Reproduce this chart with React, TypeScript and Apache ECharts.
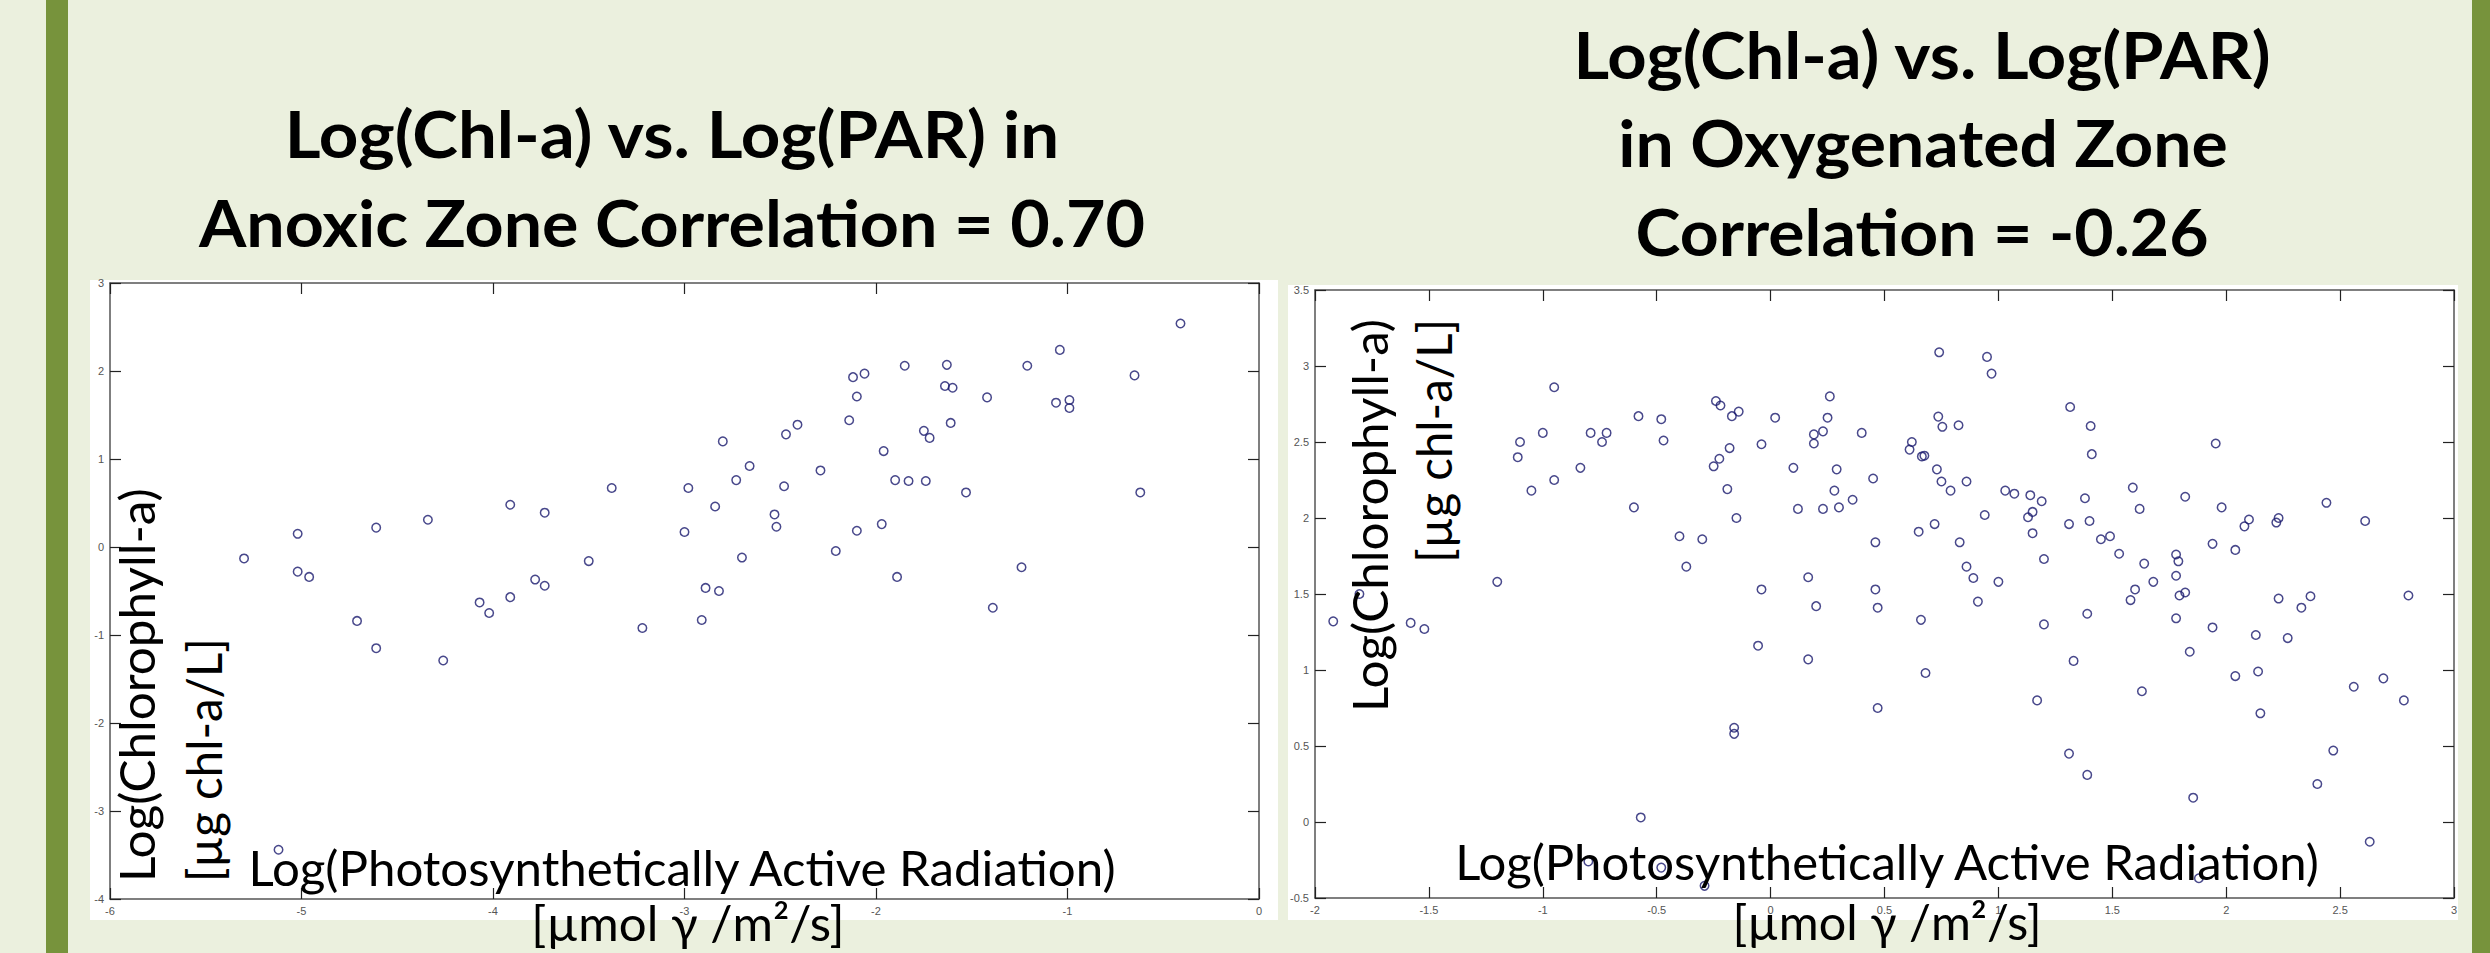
import React, { useEffect, useRef } from "react";
import * as echarts from "echarts";

// ---------- data ----------
// Anoxic zone: Log(PAR) vs Log(Chl-a)
const anoxicPAR = [
  -5.3, -5.02, -5.02, -4.96, -4.71, -4.61, -4.61, -4.34, -4.26, -4.07, -4.02, -3.91, -3.91, -3.78, -3.73, -3.73,
  -3.5, -3.38, -3.22, -5.12,
  -0.41, -1.04, -1.85, -1.63, -1.21, -0.65, -2.12, -2.06, -1.64, -1.6, -2.1, -1.42, -1.06, -0.99, -0.99, -2.14,
  -1.61, -2.41, -2.47, -1.75, -1.72, -2.8, -1.96, -2.66, -2.29, -2.73, -1.9, -1.83, -1.74, -2.98, -2.48, -1.53,
  -0.62, -2.84, -2.53, -2.52, -3.0, -2.1, -1.97, -2.21, -2.7, -1.89, -1.24, -2.89, -2.82, -1.39, -2.91,
];
const anoxicChl = [
  -0.13, 0.15, -0.28, -0.34, -0.84, 0.22, -1.15, 0.31, -1.29, -0.63, -0.75, 0.48, -0.57, -0.37, -0.44, 0.39,
  -0.16, 0.67, -0.92, -3.44,
  2.54, 2.24, 2.06, 2.07, 2.06, 1.95, 1.93, 1.97, 1.83, 1.81, 1.71, 1.7, 1.64, 1.67, 1.58, 1.44,
  1.41, 1.39, 1.28, 1.32, 1.24, 1.2, 1.09, 0.92, 0.87, 0.76, 0.76, 0.75, 0.75, 0.67, 0.69, 0.62,
  0.62, 0.46, 0.37, 0.23, 0.17, 0.185, 0.26, -0.045, -0.12, -0.34, -0.23, -0.465, -0.5, -0.69, -0.83,
];

// Oxygenated zone: Log(PAR) vs Log(Chl-a)
const oxyPAR = [
  -1.92, -1.805, -1.58, -1.52, -1.2, -1.11, -1.1, -1.05, -1.0, -0.95, -0.95, -0.835, -0.79, -0.74, -0.72, -0.6,
  -0.58, -0.48, -0.47, -0.4, -0.37, -0.3, -0.25, -0.24, -0.225, -0.22, -0.19, -0.18, -0.17, -0.14, -0.15, -0.055,
  -0.04, -0.04, 0.02, 0.1, 0.12, 0.165, 0.165, 0.19, 0.19, 0.2, 0.23, 0.25, 0.26, 0.23, 0.29, 0.28,
  0.3, 0.36, 0.4, 0.45, 0.46, 0.46, 0.47,
  0.47, -0.16, -0.16, -0.57, -0.8, -0.48, -0.29,
  0.74, 0.95, 0.97, 1.315, 1.405, 1.41, 1.954, 0.736, 0.754, 0.825, 0.62, 0.61, 0.664, 0.675, 0.73, 0.75,
  0.86, 0.79, 1.03, 1.07, 1.14, 1.19, 0.94, 1.13, 1.15, 1.15, 1.38, 1.4, 1.31, 1.59, 1.62, 1.82,
  1.98, 2.44, 2.61, 2.08, 2.1, 2.22, 2.23, 0.65, 0.72, 0.83, 1.45, 1.49, 1.53, 1.94, 2.04, 1.78,
  1.79, 0.86, 0.89, 1.0, 1.2, 1.64, 1.68, 1.6, 1.58, 1.78, 1.795, 1.82, 0.91, 0.66, 1.2, 1.39,
  1.78, 1.94, 2.13, 2.27, 2.23, 2.33, 2.37, 2.8, 1.84, 1.33,
  0.68, 2.04, 2.14, 2.56, 2.69, 2.78, 1.63, 1.17, 2.15, 1.31, 1.39, 2.47, 2.4, 1.855, 2.63, 1.88,
];
const oxyChl = [
  1.32, 1.5, 1.31, 1.27, 1.58, 2.4, 2.5, 2.18, 2.56, 2.86, 2.25, 2.33, 2.56, 2.5, 2.56, 2.07,
  2.67, 2.65, 2.51, 1.88, 1.68, 1.86, 2.34, 2.77, 2.39, 2.74, 2.19, 2.46, 2.67, 2.7, 2.0, 1.16,
  2.485, 1.53, 2.66, 2.33, 2.06, 1.61, 1.07, 2.55, 2.49, 1.42, 2.57, 2.66, 2.8, 2.06, 2.32, 2.18,
  2.07, 2.12, 2.56, 2.26, 1.84, 1.53, 1.41,
  0.75, 0.62, 0.58, 0.03, -0.26, -0.3, -0.42,
  3.09, 3.06, 2.95, 2.73, 2.605, 2.42, 2.49, 2.667, 2.6, 2.61, 2.5, 2.45, 2.405, 2.41, 2.32, 2.24,
  2.24, 2.18, 2.18, 2.16, 2.15, 2.11, 2.02, 2.005, 2.04, 1.9, 2.13, 1.98, 1.96, 2.2, 2.06, 2.14,
  2.07, 2.1, 1.98, 1.945, 1.99, 1.97, 2.0, 1.91, 1.96, 1.84, 1.86, 1.88, 1.765, 1.83, 1.79, 1.76,
  1.715, 1.68, 1.605, 1.58, 1.73, 1.7, 1.58, 1.53, 1.46, 1.62, 1.49, 1.51, 1.45, 1.33, 1.3, 1.37,
  1.34, 1.28, 1.23, 1.21, 1.47, 1.41, 1.485, 1.49, 1.12, 1.06,
  0.98, 0.96, 0.99, 0.89, 0.945, 0.8, 0.86, 0.8, 0.715, 0.45, 0.31, 0.47, 0.25, 0.16, -0.13, -0.37,
];

// axis ranges / tick steps
const anoxicX = { min: -6, max: 0, step: 1 };
const anoxicY = { min: -4, max: 3, step: 1 };
const oxyX = { min: -2, max: 3, step: 0.5 };
const oxyY = { min: -0.5, max: 3.5, step: 0.5 };

// texts
const anoxicTitle = ["Log(Chl-a) vs. Log(PAR) in", "Anoxic Zone Correlation = 0.70"];
const oxyTitle = ["Log(Chl-a) vs. Log(PAR)", "in Oxygenated Zone", "Correlation = -0.26"];
const xAxisName = ["Log(Photosynthetically Active Radiation)", "[µmol γ /m²/s]"];
const yAxisName = ["Log(Chlorophyll-a)", "[µg chl-a/L]"];

const FONT = "Lato";

function makeMeasurer() {
  const c = document.createElement("canvas");
  const ctx = c.getContext("2d") as CanvasRenderingContext2D;
  return (text: string, font: string) => {
    ctx.font = font;
    return ctx.measureText(text).width;
  };
}

export default function App() {
  const ref = useRef<HTMLDivElement>(null);

  useEffect(() => {
    document.body.style.margin = "0";
    const el = ref.current;
    if (!el) return;
    const chart = echarts.init(el, undefined, { renderer: "svg" });
    const measure = makeMeasurer();

    const txt = (
      text: string,
      x: number,
      y: number,
      size: number,
      weight: string,
      target: number,
      align: string = "center",
      rotation: number = 0
    ) => {
      const w = measure(text, `${weight} ${size}px ${FONT}`);
      const sx = w > 0 ? target / w : 1;
      return {
        type: "text",
        x,
        y,
        rotation,
        scaleX: sx,
        z: 100,
        style: {
          text,
          fontSize: size,
          fontFamily: FONT,
          fontWeight: weight,
          fill: "#000",
          textAlign: align,
          textVerticalAlign: "middle",
          align,
          verticalAlign: "middle",
        },
      };
    };

    const axisLine = { show: true, onZero: false, lineStyle: { color: "#555", width: 1.5 } };
    const axisTick = { show: true, inside: true, length: 11, lineStyle: { color: "#222", width: 1.2 } };
    const label = (show: boolean) => ({
      show,
      fontSize: 11,
      color: "#555",
      fontFamily: "Liberation Sans",
      margin: 6,
      showMinLabel: true,
      showMaxLabel: true,
    });
    const xAx = (gi: number, r: any, pos: string, show: boolean) => ({
      type: "value",
      gridIndex: gi,
      min: r.min,
      max: r.max,
      interval: r.step,
      position: pos,
      axisLine,
      axisTick,
      axisLabel: label(show),
      splitLine: { show: false },
    });

    const pairs = (xs: number[], ys: number[]) => xs.map((v, i) => [v, ys[i]]);
    const mark = {
      symbol: "circle",
      symbolSize: 8.5,
      itemStyle: { color: "rgba(0,0,0,0)", borderColor: "#1a1a6e", borderWidth: 1.5 },
    };

    const option: any = {
      animation: false,
      backgroundColor: "#EBF0DE",
      grid: [
        { left: 110, top: 283, width: 1149, height: 616 },
        { left: 1315, top: 290, width: 1139, height: 608 },
      ],
      xAxis: [
        xAx(0, anoxicX, "bottom", true),
        xAx(0, anoxicX, "top", false),
        xAx(1, oxyX, "bottom", true),
        xAx(1, oxyX, "top", false),
      ],
      yAxis: [
        xAx(0, anoxicY, "left", true),
        xAx(0, anoxicY, "right", false),
        xAx(1, oxyY, "left", true),
        xAx(1, oxyY, "right", false),
      ],
      series: [
        { type: "scatter", xAxisIndex: 0, yAxisIndex: 0, data: pairs(anoxicPAR, anoxicChl), ...mark, z: 5 },
        { type: "scatter", xAxisIndex: 2, yAxisIndex: 2, data: pairs(oxyPAR, oxyChl), ...mark, z: 5 },
      ],
      graphic: {
        elements: [
          { type: "rect", z: -10, shape: { x: 46, y: 0, width: 22, height: 953 }, style: { fill: "#77933C" } },
          { type: "rect", z: -10, shape: { x: 2472, y: 0, width: 18, height: 953 }, style: { fill: "#77933C" } },
          { type: "rect", z: -10, shape: { x: 90, y: 280, width: 1188, height: 640 }, style: { fill: "#FFFFFF" } },
          { type: "rect", z: -10, shape: { x: 1288, y: 285, width: 1170, height: 635 }, style: { fill: "#FFFFFF" } },
          // titles
          txt(anoxicTitle[0], 672, 133, 65, "bold", 776),
          txt(anoxicTitle[1], 672, 222, 65, "bold", 946),
          txt(oxyTitle[0], 1922, 54, 65, "bold", 699),
          txt(oxyTitle[1], 1923, 142, 65, "bold", 610),
          txt(oxyTitle[2], 1922, 231, 65, "bold", 573),
          // x axis names
          txt(xAxisName[0], 682, 867, 48, "normal", 870),
          txt(xAxisName[1], 688, 922, 48, "normal", 312),
          txt(xAxisName[0], 1887, 861, 48, "normal", 867),
          txt(xAxisName[1], 1887, 921, 48, "normal", 308),
          // y axis names (rotated)
          txt(yAxisName[0], 136, 882, 48, "normal", 394, "left", Math.PI / 2),
          txt(yAxisName[1], 203, 882, 48, "normal", 244, "left", Math.PI / 2),
          txt(yAxisName[0], 1369, 319, 48, "normal", 393, "right", Math.PI / 2),
          txt(yAxisName[1], 1433, 319, 48, "normal", 244, "right", Math.PI / 2),
        ],
      },
    };

    chart.setOption(option);
    return () => chart.dispose();
  }, []);

  return <div ref={ref} style={{ position: "absolute", left: 0, top: 0, width: 2490, height: 953 }} />;
}
